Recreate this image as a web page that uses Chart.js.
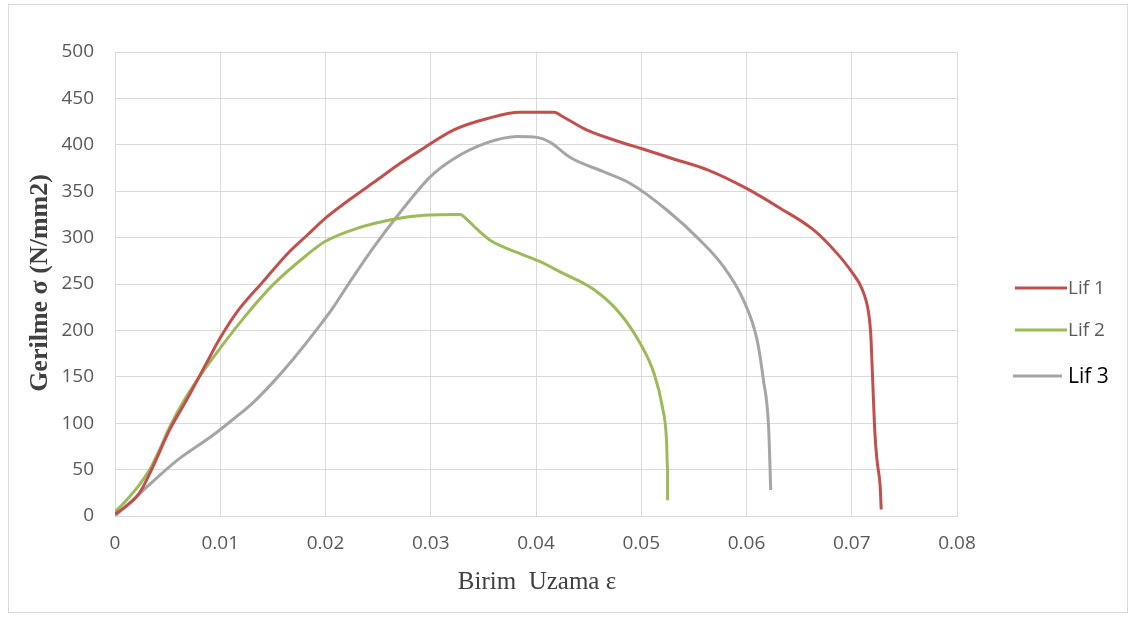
<!DOCTYPE html>
<html>
<head>
<meta charset="utf-8">
<script src="https://cdn.jsdelivr.net/npm/chart.js@4"></script>
<style>
  html, body { margin: 0; padding: 0; background: #ffffff; }
  #wrap { width: 1133px; height: 617px; }
</style>
</head>
<body>
<div id="wrap"><canvas id="c" width="1133" height="617"></canvas></div>
<script>
// Stress–strain curves for three fibre samples
const seriesNames = ['Lif 1', 'Lif 2', 'Lif 3'];
const seriesColors = ['#C0504D', '#9BBB59', '#A5A5A5'];

const lif1Strain = [0, 0.001, 0.002, 0.0025, 0.0036, 0.0052, 0.0068, 0.0087, 0.010, 0.0116, 0.0141, 0.0165, 0.0182, 0.020, 0.0223, 0.0249, 0.0271, 0.029, 0.0322, 0.0353, 0.0385, 0.0417, 0.0426, 0.0448, 0.048, 0.050, 0.053, 0.0563, 0.060, 0.063, 0.0664, 0.0686, 0.070, 0.071, 0.0716, 0.0718, 0.072, 0.0722, 0.0724, 0.0727, 0.0728];
const lif1Stress = [2, 10, 20, 28, 53, 93, 125, 165, 192, 220, 253, 284, 302, 321, 341, 362, 380, 394, 416, 428, 435, 435, 430, 416, 403, 396, 385, 373, 353, 333, 308, 283, 263, 244, 219, 197, 143, 89, 60, 32, 7];

const lif2Strain = [0, 0.0005, 0.0014, 0.0024, 0.0033, 0.0043, 0.0052, 0.0068, 0.0087, 0.010, 0.0122, 0.015, 0.0182, 0.020, 0.023, 0.0261, 0.0293, 0.0328, 0.0334, 0.0345, 0.0358, 0.0382, 0.0404, 0.0423, 0.0455, 0.048, 0.0499, 0.0512, 0.052, 0.0524, 0.0525, 0.0525];
const lif2Stress = [5, 10, 21, 35, 50, 73, 96, 129, 161, 181, 213, 249, 281, 296, 310, 319, 324, 325, 320, 308, 296, 284, 274, 263, 244, 218, 186, 154, 118, 82, 50, 17];

const lif3Strain = [0, 0.0027, 0.0059, 0.0093, 0.0112, 0.0131, 0.015, 0.017, 0.0189, 0.0208, 0.0223, 0.0246, 0.0268, 0.030, 0.0322, 0.0353, 0.0382, 0.0401, 0.0413, 0.0433, 0.0464, 0.049, 0.0524, 0.0556, 0.0578, 0.0597, 0.061, 0.0616, 0.0621, 0.0623];
const lif3Stress = [0, 28, 60, 87, 104, 122, 144, 170, 197, 226, 252, 290, 323, 366, 385, 402, 409, 408, 403, 386, 371, 358, 330, 297, 269, 233, 190, 147, 96, 28];

const xTickLabels = ['0', '0.01', '0.02', '0.03', '0.04', '0.05', '0.06', '0.07', '0.08'];
const yTickLabels = ['0', '50', '100', '150', '200', '250', '300', '350', '400', '450', '500'];

const xTitle = 'Birim  Uzama ε';
const yTitle = 'Gerilme σ (N/mm2)';

const pairs = (xs, ys) => xs.map((x, i) => ({ x: x, y: ys[i] }));
const strains = [lif1Strain, lif2Strain, lif3Strain];
const stresses = [lif1Stress, lif2Stress, lif3Stress];

const datasets = seriesNames.map((name, i) => ({
  label: name,
  data: pairs(strains[i], stresses[i]),
  borderColor: seriesColors[i],
  backgroundColor: seriesColors[i],
  borderWidth: 3,
  showLine: true,
  pointRadius: 0,
  cubicInterpolationMode: 'monotone',
  fill: false
}));

const tickFont = { family: 'Open Sans', size: 19 };
const tickColor = '#595959';
const gridColor = '#d9d9d9';

// Frame, axis titles and the side legend
const decorations = {
  id: 'decorations',
  beforeDraw(chart) {
    const ctx = chart.ctx;
    ctx.save();
    ctx.fillStyle = '#ffffff';
    ctx.fillRect(0, 0, chart.width, chart.height);
    ctx.strokeStyle = gridColor;
    ctx.lineWidth = 1;
    ctx.strokeRect(8.5, 4.5, 1119, 608);
    ctx.restore();
  },
  afterDraw(chart) {
    const ctx = chart.ctx;
    const area = chart.chartArea;
    ctx.save();
    // x-axis title
    ctx.fillStyle = '#404040';
    ctx.font = '25px "Liberation Serif"';
    ctx.textAlign = 'center';
    ctx.textBaseline = 'middle';
    ctx.fillText(xTitle, (area.left + area.right) / 2 + 1, 582);
    // y-axis title
    ctx.translate(40, 283);
    ctx.rotate(-Math.PI / 2);
    ctx.font = 'bold 26px "Liberation Serif"';
    ctx.fillStyle = '#404040';
    ctx.fillText(yTitle, 0, 0);
    ctx.restore();

    // legend
    const rows = [288, 330, 376];
    ctx.save();
    chart.data.datasets.forEach((ds, i) => {
      const y = rows[i];
      const x0 = i === 2 ? 1013 : 1015;
      const x1 = i === 2 ? 1062 : 1067;
      ctx.strokeStyle = ds.borderColor;
      ctx.lineWidth = 3;
      ctx.beginPath();
      ctx.moveTo(x0, y);
      ctx.lineTo(x1, y);
      ctx.stroke();
      ctx.fillStyle = i === 2 ? '#000000' : tickColor;
      ctx.font = (i === 2 ? '21px' : '19px') + ' "Open Sans"';
      ctx.textAlign = 'left';
      ctx.textBaseline = 'middle';
      ctx.fillText(ds.label, 1068, y + 1);
    });
    ctx.restore();
  }
};

new Chart(document.getElementById('c'), {
  type: 'scatter',
  data: { datasets: datasets },
  options: {
    responsive: false,
    animation: false,
    layout: { padding: { top: 52, right: 176, left: 0, bottom: 0 } },
    plugins: {
      legend: { display: false },
      tooltip: { enabled: false }
    },
    scales: {
      x: {
        type: 'linear',
        min: 0,
        max: 0.08,
        afterFit(s) { s.height = 101; },
        afterBuildTicks(s) {
          s.ticks = xTickLabels.map(t => ({ value: parseFloat(t) }));
        },
        ticks: {
          font: tickFont,
          color: tickColor,
          padding: 16,
          maxRotation: 0,
          callback: (v, i) => xTickLabels[i]
        },
        grid: { color: gridColor, drawTicks: false },
        border: { display: true, color: gridColor }
      },
      y: {
        type: 'linear',
        min: 0,
        max: 500,
        afterFit(s) { s.width = 115; },
        afterBuildTicks(s) {
          s.ticks = yTickLabels.map(t => ({ value: parseFloat(t) }));
        },
        ticks: {
          font: tickFont,
          color: tickColor,
          padding: 21,
          callback: (v, i) => yTickLabels[i]
        },
        grid: { color: gridColor, drawTicks: false },
        border: { display: true, color: gridColor }
      }
    }
  },
  plugins: [decorations]
});
</script>
</body>
</html>
